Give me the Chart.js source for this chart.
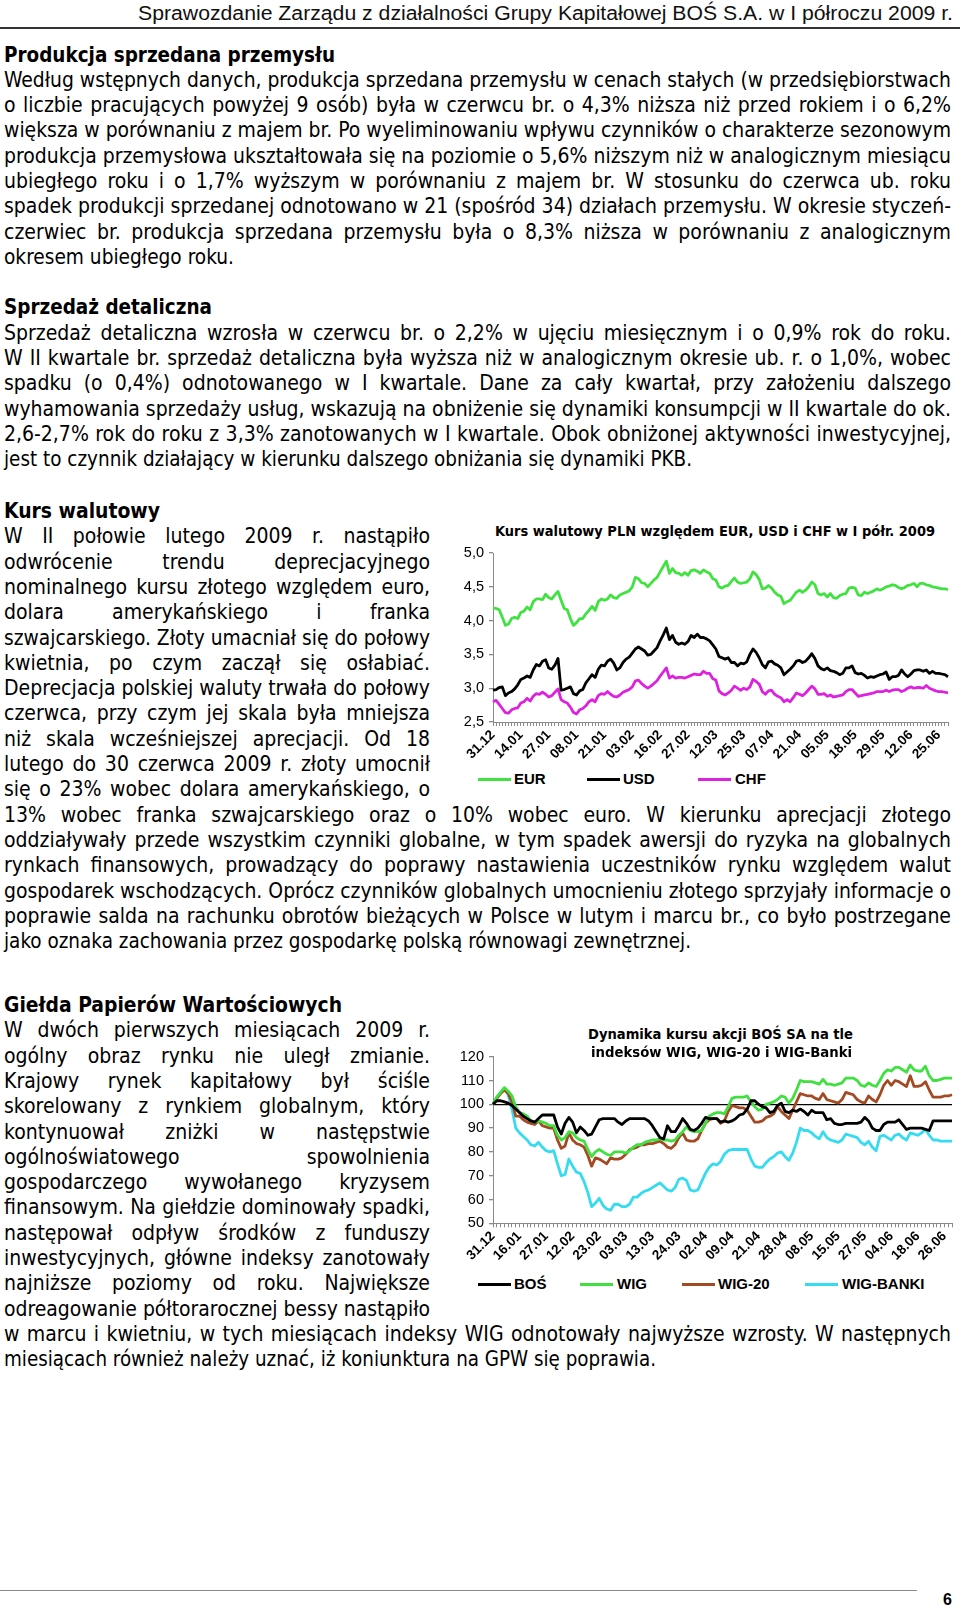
<!DOCTYPE html>
<html lang="pl">
<head>
<meta charset="utf-8">
<title>Sprawozdanie Zarządu BOŚ S.A. – I półrocze 2009</title>
<script src="https://cdn.jsdelivr.net/npm/chart.js@4.4.0/dist/chart.umd.min.js"></script>
<style>
html,body{margin:0;padding:0;background:#fff;}
body{width:960px;height:1609px;position:relative;overflow:hidden;}
.ln{position:absolute;white-space:nowrap;font-family:"DejaVu Sans Condensed","DejaVu Sans",sans-serif;font-stretch:condensed;font-size:21px;line-height:26px;color:#000;transform-origin:0 0;}
.hd{font-weight:bold;}
.hdr{font-family:"Liberation Sans Narrow","Arial Narrow","Liberation Sans",Arial,sans-serif;font-stretch:condensed;font-size:20px;color:#111;}
.ct{font-weight:bold;font-size:14.5px;line-height:18px;}
.lg{font-family:"Liberation Sans",Arial,sans-serif;font-stretch:normal;font-weight:bold;font-size:15px;line-height:18px;}
.pg{font-family:"Liberation Sans",Arial,sans-serif;font-stretch:normal;font-weight:bold;font-size:16px;line-height:18px;}
.bl{display:inline-block;width:0;height:0;vertical-align:baseline;}
.rule{position:absolute;background:#333;}
.sw{position:absolute;height:3px;}
canvas{position:absolute;}
</style>
</head>
<body>
<div class="rule" style="left:0;top:27px;width:960px;height:1.5px;"></div>
<div class="rule" style="left:0;top:1590px;width:917px;height:1px;background:#8a8a8a;"></div>
<canvas id="c1" width="505" height="220" style="left:450px;top:545px;width:505px;height:220px;"></canvas>
<canvas id="c2" width="507" height="222" style="left:450px;top:1048px;width:507px;height:222px;"></canvas>
<script>
// ---------- Chart 1 data: Kurs walutowy PLN (EUR, USD, CHF), I półrocze 2009 ----------
const fxTickLabels = ['31.12','14.01','27.01','08.01','21.01','03.02','16.02','27.02','12.03','25.03','07.04','21.04','05.05','18.05','29.05','12.06','25.06'];
const fxYTicks = [2.5, 3.0, 3.5, 4.0, 4.5, 5.0];
const EUR = [4.18,4.18,4.16,4.05,3.93,3.95,4.03,4.05,4.03,4.12,
 4.14,4.20,4.16,4.28,4.32,4.32,4.31,4.39,4.34,4.32,
 4.38,4.43,4.30,4.18,4.16,4.03,3.93,3.97,4.03,4.03,
 4.10,4.15,4.21,4.15,4.28,4.32,4.30,4.32,4.38,4.34,
 4.33,4.38,4.40,4.42,4.44,4.50,4.64,4.62,4.56,4.55,
 4.50,4.55,4.60,4.64,4.72,4.80,4.88,4.70,4.77,4.71,
 4.70,4.67,4.71,4.67,4.74,4.75,4.73,4.70,4.75,4.72,
 4.70,4.62,4.60,4.50,4.48,4.51,4.52,4.58,4.63,4.57,
 4.55,4.56,4.57,4.62,4.72,4.68,4.61,4.47,4.48,4.52,
 4.48,4.42,4.38,4.36,4.25,4.28,4.30,4.36,4.42,4.45,
 4.42,4.45,4.50,4.57,4.53,4.40,4.38,4.40,4.35,4.40,
 4.34,4.33,4.37,4.39,4.40,4.48,4.49,4.48,4.38,4.37,
 4.42,4.40,4.42,4.44,4.47,4.45,4.47,4.50,4.51,4.53,
 4.52,4.49,4.47,4.49,4.52,4.53,4.55,4.50,4.55,4.55,
 4.53,4.52,4.50,4.49,4.48,4.47,4.47,4.46];
const USD = [2.97,2.98,3.01,3.02,2.89,2.93,2.95,2.99,3.05,3.13,
 3.15,3.18,3.16,3.27,3.35,3.33,3.40,3.42,3.30,3.28,
 3.34,3.44,2.97,2.98,3.00,3.02,2.92,2.90,2.96,2.98,
 3.08,3.14,3.20,3.16,3.28,3.34,3.33,3.40,3.43,3.37,
 3.27,3.30,3.38,3.43,3.46,3.52,3.58,3.61,3.58,3.55,
 3.49,3.50,3.55,3.60,3.70,3.79,3.89,3.72,3.78,3.68,
 3.65,3.67,3.65,3.69,3.78,3.75,3.80,3.75,3.75,3.73,
 3.70,3.64,3.58,3.47,3.45,3.43,3.45,3.38,3.38,3.33,
 3.37,3.36,3.39,3.50,3.58,3.53,3.45,3.35,3.30,3.39,
 3.40,3.36,3.34,3.30,3.20,3.24,3.28,3.33,3.40,3.41,
 3.38,3.40,3.45,3.51,3.44,3.33,3.29,3.27,3.30,3.26,
 3.25,3.23,3.20,3.22,3.30,3.30,3.33,3.23,3.21,3.22,
 3.19,3.15,3.17,3.16,3.18,3.20,3.21,3.24,3.13,3.17,
 3.17,3.19,3.27,3.21,3.17,3.21,3.26,3.27,3.27,3.25,
 3.27,3.22,3.25,3.22,3.22,3.21,3.20,3.17];
const CHF = [2.80,2.82,2.76,2.70,2.64,2.63,2.68,2.70,2.71,2.78,
 2.80,2.85,2.81,2.88,2.92,2.91,2.94,2.91,2.87,2.89,
 2.94,2.99,2.83,2.80,2.78,2.72,2.64,2.62,2.68,2.70,
 2.74,2.80,2.83,2.80,2.89,2.92,2.91,2.95,2.91,2.88,
 2.87,2.90,2.94,2.96,2.98,3.02,3.11,3.12,3.07,3.03,
 3.00,3.03,3.07,3.11,3.18,3.24,3.30,3.15,3.18,3.15,
 3.16,3.16,3.15,3.17,3.19,3.21,3.20,3.20,3.25,3.22,
 3.22,3.14,3.12,2.96,2.92,2.90,2.93,2.97,3.03,3.00,
 2.97,3.00,2.98,3.02,3.13,3.10,3.06,2.95,2.91,2.96,
 2.97,2.91,2.88,2.86,2.80,2.83,2.80,2.86,2.93,2.91,
 2.89,2.93,2.98,3.03,2.99,2.91,2.91,2.92,2.88,2.90,
 2.87,2.88,2.89,2.90,2.95,2.98,2.98,2.93,2.88,2.89,
 2.90,2.91,2.92,2.93,2.95,2.95,2.95,2.97,2.95,2.97,
 2.98,2.98,2.95,2.97,3.00,3.02,3.00,3.01,3.01,3.00,
 3.04,3.00,2.98,2.96,2.95,2.95,2.94,2.93];
const fxStep = 9; // one date label every 9 sessions

// ---------- Chart 2 data: BOŚ vs WIG, WIG-20, WIG-Banki (31.12.2008 = 100) ----------
const gpwTickLabels = ['31.12','16.01','27.01','12.02','23.02','03.03','13.03','24.03','02.04','09.04','21.04','28.04','08.05','15.05','27.05','04.06','18.06','26.06'];
const gpwYTicks = [50, 60, 70, 80, 90, 100, 110, 120];
const BOS = [100,101.5,101.5,101,100.5,99.5,98,96.5,95,94,
 93,92.5,94,95.5,95.5,95.5,95.5,90.5,87.5,92,
 94.5,92.5,88,90.5,89,87,87.5,90.5,93.5,94,
 94,94,94,92.5,91.5,93,94,94,94,94,
 94,93,91,88.5,86,85.5,91,88.5,88.5,91,
 94,92,89.5,89,90,92,94.5,94,94,94,
 92.5,93,92.5,93,94,95.5,96,98,101.5,101.5,
 100,99,98.5,96.5,97,99.5,100.5,97,96.5,97.5,
 97,98,97,95.5,97.5,96.5,96.5,96.5,93.5,94,
 92,91.5,91.5,92,92,92,92,92.5,94.5,93,
 90,89,89,91.5,92.5,92.5,92.5,93.5,91.5,89.5,
 90,90,90,90,89.5,89,93,93,93,93,
 93,93];
const WIG = [100,103,105,107,105.5,103.5,99,96.5,96,95,
 93,92.5,93,92.5,92,91,91,87,85,86,
 88.5,88,86,85,84.5,81,78,80,81,80,
 79,78.5,80,80,80,79.5,80.5,82,83,83,
 84,84.5,85,85,85.5,85,85,84.5,85,87,
 88.5,90.5,89,88.5,88.5,89,92,95,96,96.5,
 96.5,96,99,102.5,103,103,103,103.5,101,99,
 97.5,98,100,100.5,101,102,103.5,103,100.5,102.5,
 106,110,109.5,109.5,109.5,109,108.5,110.5,108.5,108.5,
 108,108.5,109,111,111,111,110,108,107.5,109,
 108,107.5,110,113,114.5,114,115.5,115.5,114.5,113.5,
 116.5,114.5,114,114,116,112,110,110,110.5,111,
 111,111];
const WIG20 = [100,102.5,104.5,106,104.5,101,95,95,93.5,92.5,
 92,91.5,93,91,90.5,90,90,85,81.5,82.5,
 88,85,83.5,83,82,78.5,74,77.5,77,76,
 75,77.5,77,77,77.5,79,81,81.5,82,83,
 83,83.5,83.5,84,84.5,83.5,82,81.5,83,86,
 88,85,84.5,84.5,85.5,89,92,93.5,94,94,
 92,93,97,99.5,99,98.5,98.5,97.5,95,92.5,
 92.5,93,94.5,95,96,99,97,95.5,94,97.5,
 101,104.5,104,103.5,103.5,102.5,102,104.5,102,101.5,
 101,100.5,102,105,104.5,104,102,101,100.5,103.5,
 102,101,104,108,110,108,110,109.5,108.5,107.5,
 112,107.5,107.5,108,109.5,106,103,103,103,103.5,
 103.5,104];
const WIGBANKI = [100,103,105,106.5,104,98,90,88,86.5,85,
 83,82.5,84,82,80.5,80,80.5,75,70,70.5,
 77,74,71.5,71,67.5,63,57,58.5,60.5,57.5,
 56,55.5,58,58,57,57,58,61,61,62.5,
 63.5,64,65,66,67,65.5,64,63.5,65,68.5,
 69,68,64,63.5,64,67.5,71,73.5,75,74.5,
 76,79,80.5,81,81,81,81,81,77,74,
 73.5,73.5,75.5,77,78,79.5,80,78,76.5,79.5,
 84,90,89,89,88,86.5,85.5,88.5,86,85,
 84.5,84,85,87.5,87,86.5,86,84,83,84.5,
 82,80.5,86.5,87,86,85,87,87.5,86,85,
 88,87.5,87,88,89.5,87,85,85,84.5,84.5,
 84.5,84.5];
const gpwStep = 7; // one date label every 7 sessions
const gpwBase = 100;

// ---------- Page text (line by line, as in the report) ----------
const COL = 426, FULL = 947;
const TEXT = [
 ['hdr','Sprawozdanie Zarządu z działalności Grupy Kapitałowej BOŚ S.A. w I półroczu 2009 r.',138,19.5,815,'s'],
 ['hd','Produkcja sprzedana przemysłu',4,61.7,331,'f'],
 ['','Według wstępnych danych, produkcja sprzedana przemysłu w cenach stałych (w przedsiębiorstwach',4,86.7,FULL,'j'],
 ['','o liczbie pracujących powyżej 9 osób) była w czerwcu br. o 4,3% niższa niż przed rokiem i o 6,2%',4,112.0,FULL,'j'],
 ['','większa w porównaniu z majem br. Po wyeliminowaniu wpływu czynników o charakterze sezonowym',4,137.3,FULL,'j'],
 ['','produkcja przemysłowa ukształtowała się na poziomie o 5,6% niższym niż w analogicznym miesiącu',4,162.6,FULL,'j'],
 ['','ubiegłego roku i o 1,7% wyższym w porównaniu z majem br. W stosunku do czerwca ub. roku',4,187.9,FULL,'j'],
 ['','spadek produkcji sprzedanej odnotowano w 21 (spośród 34) działach przemysłu. W okresie styczeń-',4,213.2,FULL,'j'],
 ['','czerwiec br. produkcja sprzedana przemysłu była o 8,3% niższa w porównaniu z analogicznym',4,238.5,FULL,'j'],
 ['','okresem ubiegłego roku.',4,263.8,230,'f'],
 ['hd','Sprzedaż detaliczna',4,314.4,208,'f'],
 ['','Sprzedaż detaliczna wzrosła w czerwcu br. o 2,2% w ujęciu miesięcznym i o 0,9% rok do roku.',4,339.7,FULL,'j'],
 ['','W II kwartale br. sprzedaż detaliczna była wyższa niż w analogicznym okresie ub. r. o 1,0%, wobec',4,365.0,FULL,'j'],
 ['','spadku (o 0,4%) odnotowanego w I kwartale. Dane za cały kwartał, przy założeniu dalszego',4,390.3,FULL,'j'],
 ['','wyhamowania sprzedaży usług, wskazują na obniżenie się dynamiki konsumpcji w II kwartale do ok.',4,415.6,FULL,'j'],
 ['','2,6-2,7% rok do roku z 3,3% zanotowanych w I kwartale. Obok obniżonej aktywności inwestycyjnej,',4,440.9,FULL,'j'],
 ['','jest to czynnik działający w kierunku dalszego obniżania się dynamiki PKB.',4,466.2,688,'f'],
 ['hd','Kurs walutowy',4,518,156,'f'],
 ['','W II połowie lutego 2009 r. nastąpiło',4,543.3,COL,'j'],
 ['','odwrócenie trendu deprecjacyjnego',4,568.6,COL,'j'],
 ['','nominalnego kursu złotego względem euro,',4,593.9,COL,'j'],
 ['','dolara amerykańskiego i franka',4,619.2,COL,'j'],
 ['','szwajcarskiego. Złoty umacniał się do połowy',4,644.5,COL,'j'],
 ['','kwietnia, po czym zaczął się osłabiać.',4,669.8,COL,'j'],
 ['','Deprecjacja polskiej waluty trwała do połowy',4,695.1,COL,'j'],
 ['','czerwca, przy czym jej skala była mniejsza',4,720.4,COL,'j'],
 ['','niż skala wcześniejszej aprecjacji. Od 18',4,745.7,COL,'j'],
 ['','lutego do 30 czerwca 2009 r. złoty umocnił',4,771.0,COL,'j'],
 ['','się o 23% wobec dolara amerykańskiego, o',4,796.3,COL,'j'],
 ['','13% wobec franka szwajcarskiego oraz o 10% wobec euro. W kierunku aprecjacji złotego',4,821.6,FULL,'j'],
 ['','oddziaływały przede wszystkim czynniki globalne, w tym spadek awersji do ryzyka na globalnych',4,846.9,FULL,'j'],
 ['','rynkach finansowych, prowadzący do poprawy nastawienia uczestników rynku względem walut',4,872.2,FULL,'j'],
 ['','gospodarek wschodzących. Oprócz czynników globalnych umocnieniu złotego sprzyjały informacje o',4,897.5,FULL,'j'],
 ['','poprawie salda na rachunku obrotów bieżących w Polsce w lutym i marcu br., co było postrzegane',4,922.8,FULL,'j'],
 ['','jako oznaka zachowania przez gospodarkę polską równowagi zewnętrznej.',4,948.1,687,'f'],
 ['hd','Giełda Papierów Wartościowych',4,1011.7,338,'f'],
 ['','W dwóch pierwszych miesiącach 2009 r.',4,1037.3,COL,'j'],
 ['','ogólny obraz rynku nie uległ zmianie.',4,1062.6,COL,'j'],
 ['','Krajowy rynek kapitałowy był ściśle',4,1087.9,COL,'j'],
 ['','skorelowany z rynkiem globalnym, który',4,1113.2,COL,'j'],
 ['','kontynuował zniżki w następstwie',4,1138.5,COL,'j'],
 ['','ogólnoświatowego spowolnienia',4,1163.8,COL,'j'],
 ['','gospodarczego wywołanego kryzysem',4,1189.1,COL,'j'],
 ['','finansowym. Na giełdzie dominowały spadki,',4,1214.4,COL,'j'],
 ['','następował odpływ środków z funduszy',4,1239.7,COL,'j'],
 ['','inwestycyjnych, główne indeksy zanotowały',4,1265.0,COL,'j'],
 ['','najniższe poziomy od roku. Największe',4,1290.3,COL,'j'],
 ['','odreagowanie półtorarocznej bessy nastąpiło',4,1315.6,COL,'j'],
 ['','w marcu i kwietniu, w tych miesiącach indeksy WIG odnotowały najwyższe wzrosty. W następnych',4,1340.9,FULL,'j'],
 ['','miesiącach również należy uznać, iż koniunktura na GPW się poprawia.',4,1366.2,652,'f'],
 // chart titles
 ['hd ct','Kurs walutowy PLN względem EUR, USD i CHF w I półr. 2009',495,535.5,440,'f'],
 ['hd ct','Dynamika kursu akcji BOŚ SA na tle',588,1038.6,265,'f'],
 ['hd ct','indeksów WIG, WIG-20 i WIG-Banki',591,1057,261,'f'],
 // page number
 ['pg','6',943,1605,0,'n']
];

// legends: [label, colour, swatch x, text x, centre y]
const LEGEND1 = [['EUR','#3fe23f',478,514,779],['USD','#000000',587,623,779],['CHF','#dd22dd',698,735,779]];
const LEGEND2 = [['BOŚ','#000000',478,514,1284],['WIG','#3fe03f',580,617,1284],['WIG-20','#a34a22',682,718,1284],['WIG-BANKI','#35dcef',805,842,1284]];

function placeLine(cls, t, x, bl, w, mode){
  const d = document.createElement('div');
  d.className = 'ln ' + cls;
  const s = document.createElement('span'); s.textContent = t;
  const b = document.createElement('span'); b.className = 'bl';
  d.appendChild(s); d.appendChild(b);
  document.body.appendChild(d);
  d.style.left = x + 'px';
  d.style.top = (bl - b.offsetTop) + 'px';
  const nat = s.getBoundingClientRect().width;
  if (mode === 'j') {
    const gaps = (t.match(/ /g) || []).length;
    if (nat <= w && gaps > 0) d.style.wordSpacing = ((w - nat) / gaps) + 'px';
    else d.style.transform = 'scaleX(' + (w / nat) + ')';
  } else if (mode === 'f') {
    d.style.transform = 'scaleX(' + Math.max(0.75, Math.min(1.25, w / nat)) + ')';
  } else if (mode === 's') {
    d.style.transform = 'scaleX(' + (w / nat) + ')';
  }
}
TEXT.forEach(r => placeLine(r[0], r[1], r[2], r[3], r[4], r[5]));
[...LEGEND1, ...LEGEND2].forEach(([lab, col, sx, tx, cy]) => {
  const sw = document.createElement('div');
  sw.className = 'sw';
  sw.style.left = sx + 'px'; sw.style.top = (cy - 1.5) + 'px'; sw.style.width = '33px'; sw.style.background = col;
  document.body.appendChild(sw);
  placeLine('lg', lab, tx, cy + 5.4, 0, 'n');
});

// ---------- Charts ----------
Chart.defaults.color = '#000';
Chart.defaults.font.family = '"Liberation Sans", Arial, sans-serif';
const fxCats = EUR.map((_, i) => (i % fxStep === 0 && fxTickLabels[i / fxStep]) ? fxTickLabels[i / fxStep] : '');
const gpwCats = BOS.map((_, i) => (i % gpwStep === 0 && gpwTickLabels[i / gpwStep]) ? gpwTickLabels[i / gpwStep] : '');

function lineDs(label, data, color){
  return {label, data, borderColor: color, backgroundColor: color, borderWidth: 2.8, pointRadius: 0, tension: 0, fill: false, borderJoinStyle: 'round'};
}
function xAxis(cats, h){
  return {
    type: 'category', offset: false,
    grid: {display: true, drawOnChartArea: false, drawTicks: true, tickLength: 4, tickColor: '#8a8a8a', color: '#8a8a8a'},
    border: {display: true, color: '#8a8a8a', width: 1},
    ticks: {autoSkip: false, maxRotation: 45, minRotation: 45, padding: 1, font: {size: 13.5, weight: 'bold'}, callback: (v, i) => cats[i]},
    afterFit: s => { s.height = h; s.paddingLeft = 0; s.paddingRight = 0; }
  };
}
function yAxis(min, max, step, ticks, fmt, gridColor){
  return {
    min, max,
    afterBuildTicks: s => { s.ticks = ticks.map(v => ({value: v})); },
    ticks: {stepSize: step, padding: 5, font: {size: 14.5}, callback: fmt},
    grid: {display: true, drawOnChartArea: !!gridColor, drawTicks: true, tickLength: 4, tickColor: '#8a8a8a', color: gridColor || '#8a8a8a', lineWidth: 1.3},
    border: {display: true, color: '#8a8a8a', width: 1},
    afterFit: s => { s.width = 43; s.paddingTop = 0; s.paddingBottom = 0; }
  };
}
const common = {
  responsive: false, animation: false, devicePixelRatio: 1,
  plugins: {legend: {display: false}, title: {display: false}, tooltip: {enabled: false}},
  elements: {line: {capBezierPoints: false}}
};

new Chart(document.getElementById('c1'), {
  type: 'line',
  data: {labels: fxCats, datasets: [lineDs('EUR', EUR, '#3fe23f'), lineDs('USD', USD, '#000000'), lineDs('CHF', CHF, '#dd22dd')]},
  options: Object.assign({}, common, {
    layout: {padding: {top: 8, right: 7, left: 0, bottom: 0}},
    scales: {
      x: xAxis(fxCats, 43),
      y: yAxis(2.5, 5, 0.5, fxYTicks, v => Number(v).toFixed(1).replace('.', ','), null)
    }
  })
});

new Chart(document.getElementById('c2'), {
  type: 'line',
  data: {labels: gpwCats, datasets: [lineDs('BOŚ', BOS, '#000000'), lineDs('WIG', WIG, '#3fe03f'), lineDs('WIG-20', WIG20, '#a34a22'), lineDs('WIG-BANKI', WIGBANKI, '#35dcef')]},
  options: Object.assign({}, common, {
    layout: {padding: {top: 8.7, right: 5, left: 0, bottom: 0}},
    scales: {
      x: xAxis(gpwCats, 46.7),
      y: yAxis(50, 120, 10, gpwYTicks, v => String(v), ctx => (ctx.tick && ctx.tick.value === gpwBase) ? '#000000' : 'rgba(0,0,0,0)')
    }
  })
});
</script>
</body>
</html>
